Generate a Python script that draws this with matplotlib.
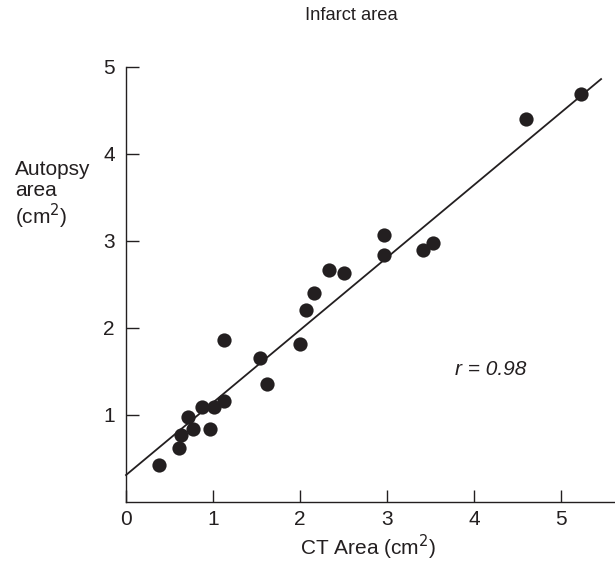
import matplotlib
matplotlib.use('Agg')
import matplotlib.pyplot as plt
import numpy as np

ct_area = [0.38, 0.61, 0.63, 0.71, 0.77, 0.87, 0.97, 1.01, 1.13, 1.13, 1.54, 1.62,
           2.00, 2.07, 2.16, 2.33, 2.51, 2.97, 2.97, 3.41, 3.53, 4.60, 5.23]
autopsy_area = [0.42, 0.62, 0.77, 0.98, 0.84, 1.09, 0.84, 1.09, 1.16, 1.86, 1.65, 1.36,
                1.81, 2.21, 2.40, 2.66, 2.63, 3.07, 2.84, 2.89, 2.98, 4.40, 4.69]
fit_intercept = 0.31
fit_slope = 0.833
fit_x = [0.0, 5.46]

ink = '#231f20'
plt.rcParams['font.family'] = ['Liberation Sans', 'DejaVu Sans']

dpi = 100
fig = plt.figure(dpi=dpi, figsize=(615 / dpi, 563 / dpi))
ax = fig.add_axes([0.2049, 0.1083, 0.7951, 0.7732])

ax.scatter(ct_area, autopsy_area, s=105, color=ink, zorder=3, linewidths=0)
fx = np.array(fit_x)
ax.plot(fx, fit_intercept + fit_slope * fx, color=ink, lw=1.3, clip_on=False)

ax.set_xlim(0, 5.62)
ax.set_ylim(0, 5)
ax.set_xticks([0, 1, 2, 3, 4, 5])
ax.set_yticks([1, 2, 3, 4, 5])
ax.tick_params(direction='in', length=9, width=1, colors=ink, labelsize=15, pad=6)
ax.tick_params(axis='y', pad=8)
for s in ['top', 'right']:
    ax.spines[s].set_visible(False)
for s in ['left', 'bottom']:
    ax.spines[s].set_color(ink)
    ax.spines[s].set_linewidth(1)

ax.text(3.78, 1.52, 'r = 0.98', fontsize=15, style='italic', color=ink, va='center')

fig.text(0.571, 0.972, 'Infarct area', fontsize=13.2, color=ink, ha='center', va='center')
fig.text(0.598, 0.028, 'CT Area (cm$^2$)', fontsize=15, color=ink, ha='center', va='center')
fig.text(0.024, 0.652, 'Autopsy\narea\n(cm$^2$)', fontsize=15, color=ink, ha='left', va='center',
         linespacing=1.1)

fig.savefig('out.png', dpi=dpi, facecolor='white')
